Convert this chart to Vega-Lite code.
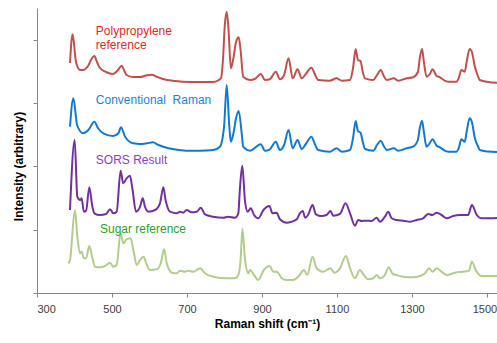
{
  "$schema": "https://vega.github.io/schema/vega-lite/v6.json",
  "width": 460,
  "height": 285,
  "autosize": "none",
  "padding": {"left": 37, "top": 8, "right": 0, "bottom": 50},
  "config": {"view": {"stroke": null}, "font": "Liberation Sans"},
  "datasets": {
    "spectra": [
      {"s":"pp","x":388,"y":230},{"s":"pp","x":395,"y":258.7},{"s":"pp","x":404,"y":231},{"s":"pp","x":415,"y":223},{"s":"pp","x":423,"y":223},{"s":"pp","x":436,"y":227},{"s":"pp","x":447,"y":235},{"s":"pp","x":453,"y":237},{"s":"pp","x":460,"y":231},{"s":"pp","x":468,"y":225},{"s":"pp","x":484,"y":221},{"s":"pp","x":503,"y":219},{"s":"pp","x":516,"y":223},{"s":"pp","x":526,"y":227.3},{"s":"pp","x":532,"y":223},{"s":"pp","x":539,"y":218},{"s":"pp","x":556,"y":216},{"s":"pp","x":575,"y":216},{"s":"pp","x":591,"y":217.5},{"s":"pp","x":606,"y":218.3},{"s":"pp","x":621,"y":216},{"s":"pp","x":636,"y":214},{"s":"pp","x":668,"y":212},{"s":"pp","x":708,"y":211},{"s":"pp","x":748,"y":211},{"s":"pp","x":769,"y":211},{"s":"pp","x":783,"y":212.5},{"s":"pp","x":791,"y":215},{"s":"pp","x":796,"y":233},{"s":"pp","x":801,"y":268},{"s":"pp","x":806,"y":281.3},{"s":"pp","x":811,"y":263},{"s":"pp","x":817,"y":224.7},{"s":"pp","x":823,"y":233},{"s":"pp","x":831,"y":251},{"s":"pp","x":838,"y":255.7},{"s":"pp","x":843,"y":243},{"s":"pp","x":850,"y":216.3},{"s":"pp","x":868,"y":213},{"s":"pp","x":881,"y":214},{"s":"pp","x":897,"y":219},{"s":"pp","x":908,"y":213},{"s":"pp","x":921,"y":213.7},{"s":"pp","x":937,"y":221.3},{"s":"pp","x":948,"y":213.7},{"s":"pp","x":959,"y":218},{"s":"pp","x":971,"y":234.7},{"s":"pp","x":982,"y":214.7},{"s":"pp","x":995,"y":223.7},{"s":"pp","x":1006,"y":214.7},{"s":"pp","x":1017,"y":219},{"s":"pp","x":1032,"y":225.3},{"s":"pp","x":1041,"y":219},{"s":"pp","x":1050,"y":213},{"s":"pp","x":1081,"y":212.3},{"s":"pp","x":1099,"y":214.7},{"s":"pp","x":1113,"y":212.3},{"s":"pp","x":1135,"y":213},{"s":"pp","x":1143,"y":225},{"s":"pp","x":1150,"y":244},{"s":"pp","x":1156,"y":233},{"s":"pp","x":1163,"y":232},{"s":"pp","x":1169,"y":221},{"s":"pp","x":1175,"y":214.7},{"s":"pp","x":1197,"y":213},{"s":"pp","x":1207,"y":218},{"s":"pp","x":1217,"y":223},{"s":"pp","x":1225,"y":217},{"s":"pp","x":1233,"y":213},{"s":"pp","x":1252,"y":214.7},{"s":"pp","x":1263,"y":212.3},{"s":"pp","x":1286,"y":214.7},{"s":"pp","x":1303,"y":215.7},{"s":"pp","x":1316,"y":221},{"s":"pp","x":1321,"y":235},{"s":"pp","x":1327,"y":244},{"s":"pp","x":1332,"y":231},{"s":"pp","x":1339,"y":216.3},{"s":"pp","x":1348,"y":219},{"s":"pp","x":1355,"y":223.7},{"s":"pp","x":1366,"y":217},{"s":"pp","x":1375,"y":215.7},{"s":"pp","x":1385,"y":213},{"s":"pp","x":1397,"y":211.3},{"s":"pp","x":1419,"y":211.3},{"s":"pp","x":1425,"y":215},{"s":"pp","x":1432,"y":223},{"s":"pp","x":1441,"y":221.3},{"s":"pp","x":1446,"y":231},{"s":"pp","x":1454,"y":244},{"s":"pp","x":1460,"y":241},{"s":"pp","x":1468,"y":226.3},{"s":"pp","x":1476,"y":217},{"s":"pp","x":1481,"y":213},{"s":"pp","x":1503,"y":211},{"s":"pp","x":1527,"y":210.3},

      {"s":"conv","x":388,"y":166.3},{"s":"conv","x":397,"y":194.7},{"s":"conv","x":407,"y":168},{"s":"conv","x":423,"y":159.7},{"s":"conv","x":437,"y":163},{"s":"conv","x":453,"y":171.3},{"s":"conv","x":463,"y":164.7},{"s":"conv","x":477,"y":159.7},{"s":"conv","x":503,"y":157},{"s":"conv","x":517,"y":159.7},{"s":"conv","x":524,"y":165.7},{"s":"conv","x":535,"y":156.3},{"s":"conv","x":557,"y":149.7},{"s":"conv","x":575,"y":149},{"s":"conv","x":593,"y":149.7},{"s":"conv","x":609,"y":150.7},{"s":"conv","x":624,"y":148},{"s":"conv","x":637,"y":146.3},{"s":"conv","x":665,"y":143.7},{"s":"conv","x":699,"y":142.3},{"s":"conv","x":735,"y":142.3},{"s":"conv","x":770,"y":143},{"s":"conv","x":788,"y":146.3},{"s":"conv","x":799,"y":166.3},{"s":"conv","x":806,"y":208},{"s":"conv","x":813,"y":166.3},{"s":"conv","x":817,"y":151.3},{"s":"conv","x":824,"y":159.7},{"s":"conv","x":831,"y":175},{"s":"conv","x":838,"y":182},{"s":"conv","x":846,"y":159.7},{"s":"conv","x":850,"y":146.3},{"s":"conv","x":868,"y":142.3},{"s":"conv","x":897,"y":148.7},{"s":"conv","x":908,"y":142.3},{"s":"conv","x":921,"y":143.7},{"s":"conv","x":937,"y":151.3},{"s":"conv","x":948,"y":143},{"s":"conv","x":959,"y":148},{"s":"conv","x":971,"y":163},{"s":"conv","x":982,"y":144.7},{"s":"conv","x":995,"y":153},{"s":"conv","x":1006,"y":144},{"s":"conv","x":1017,"y":149},{"s":"conv","x":1032,"y":156.3},{"s":"conv","x":1041,"y":149},{"s":"conv","x":1050,"y":143},{"s":"conv","x":1081,"y":141.3},{"s":"conv","x":1099,"y":144.7},{"s":"conv","x":1113,"y":141.3},{"s":"conv","x":1135,"y":143},{"s":"conv","x":1143,"y":155},{"s":"conv","x":1150,"y":172},{"s":"conv","x":1156,"y":162},{"s":"conv","x":1163,"y":160.3},{"s":"conv","x":1169,"y":151},{"s":"conv","x":1175,"y":144},{"s":"conv","x":1197,"y":142.3},{"s":"conv","x":1207,"y":148},{"s":"conv","x":1217,"y":152.3},{"s":"conv","x":1225,"y":147},{"s":"conv","x":1233,"y":143},{"s":"conv","x":1252,"y":144.7},{"s":"conv","x":1263,"y":142.3},{"s":"conv","x":1286,"y":144.7},{"s":"conv","x":1303,"y":146.3},{"s":"conv","x":1316,"y":153},{"s":"conv","x":1321,"y":165},{"s":"conv","x":1327,"y":172.3},{"s":"conv","x":1332,"y":161},{"s":"conv","x":1339,"y":146.3},{"s":"conv","x":1348,"y":150},{"s":"conv","x":1355,"y":153.7},{"s":"conv","x":1366,"y":147.3},{"s":"conv","x":1375,"y":145.7},{"s":"conv","x":1385,"y":143},{"s":"conv","x":1397,"y":141.3},{"s":"conv","x":1419,"y":141.3},{"s":"conv","x":1425,"y":145},{"s":"conv","x":1432,"y":153.7},{"s":"conv","x":1441,"y":151.3},{"s":"conv","x":1446,"y":161},{"s":"conv","x":1454,"y":174.7},{"s":"conv","x":1460,"y":171},{"s":"conv","x":1468,"y":154.7},{"s":"conv","x":1476,"y":147},{"s":"conv","x":1481,"y":143},{"s":"conv","x":1503,"y":141.5},{"s":"conv","x":1527,"y":141},

      {"s":"sors","x":388,"y":83},{"s":"sors","x":400.5,"y":153},{"s":"sors","x":407.5,"y":96.3},{"s":"sors","x":415,"y":93},{"s":"sors","x":419,"y":94.7},{"s":"sors","x":425,"y":81.3},{"s":"sors","x":431,"y":82.3},{"s":"sors","x":439.5,"y":105.7},{"s":"sors","x":447,"y":88},{"s":"sors","x":453,"y":79.7},{"s":"sors","x":468,"y":78},{"s":"sors","x":484,"y":79},{"s":"sors","x":495,"y":83.7},{"s":"sors","x":503.5,"y":79.7},{"s":"sors","x":512.5,"y":81.3},{"s":"sors","x":523,"y":122.3},{"s":"sors","x":530,"y":109.7},{"s":"sors","x":539,"y":114.7},{"s":"sors","x":548,"y":117.3},{"s":"sors","x":555,"y":103},{"s":"sors","x":564,"y":81.3},{"s":"sors","x":575,"y":86.3},{"s":"sors","x":582,"y":94.7},{"s":"sors","x":588,"y":86.3},{"s":"sors","x":597,"y":81.3},{"s":"sors","x":615,"y":83},{"s":"sors","x":628,"y":89.7},{"s":"sors","x":637,"y":105.7},{"s":"sors","x":643,"y":93},{"s":"sors","x":655,"y":81.3},{"s":"sors","x":673,"y":79.7},{"s":"sors","x":681,"y":81.3},{"s":"sors","x":690,"y":80.3},{"s":"sors","x":699,"y":83},{"s":"sors","x":712.5,"y":80.7},{"s":"sors","x":726,"y":81.3},{"s":"sors","x":737,"y":85.3},{"s":"sors","x":748,"y":78.7},{"s":"sors","x":770,"y":76.3},{"s":"sors","x":797,"y":75.3},{"s":"sors","x":810,"y":76.3},{"s":"sors","x":828,"y":75.3},{"s":"sors","x":837,"y":79.7},{"s":"sors","x":841,"y":103},{"s":"sors","x":847.5,"y":127.3},{"s":"sors","x":855,"y":91.3},{"s":"sors","x":862,"y":81.3},{"s":"sors","x":870,"y":84.7},{"s":"sors","x":879,"y":78},{"s":"sors","x":890,"y":74.7},{"s":"sors","x":904,"y":83},{"s":"sors","x":920,"y":87},{"s":"sors","x":928,"y":79.7},{"s":"sors","x":939,"y":80.3},{"s":"sors","x":948,"y":73.7},{"s":"sors","x":966,"y":70.3},{"s":"sors","x":979,"y":71.3},{"s":"sors","x":993,"y":73.7},{"s":"sors","x":1001,"y":79.7},{"s":"sors","x":1009,"y":82},{"s":"sors","x":1015,"y":75.3},{"s":"sors","x":1023,"y":78},{"s":"sors","x":1035,"y":88},{"s":"sors","x":1044,"y":78.7},{"s":"sors","x":1059,"y":77},{"s":"sors","x":1072,"y":78},{"s":"sors","x":1083,"y":82},{"s":"sors","x":1090,"y":77.3},{"s":"sors","x":1108,"y":79},{"s":"sors","x":1123,"y":89.7},{"s":"sors","x":1135,"y":79.7},{"s":"sors","x":1148,"y":67.3},{"s":"sors","x":1157,"y":73},{"s":"sors","x":1166,"y":72},{"s":"sors","x":1179,"y":72.3},{"s":"sors","x":1192.5,"y":72},{"s":"sors","x":1206,"y":75.3},{"s":"sors","x":1215,"y":71.3},{"s":"sors","x":1228,"y":76.3},{"s":"sors","x":1237,"y":81.3},{"s":"sors","x":1246,"y":74.7},{"s":"sors","x":1259,"y":73},{"s":"sors","x":1277,"y":72.3},{"s":"sors","x":1295,"y":71.3},{"s":"sors","x":1313,"y":73},{"s":"sors","x":1330,"y":74.7},{"s":"sors","x":1343,"y":79},{"s":"sors","x":1355,"y":78},{"s":"sors","x":1366,"y":80.3},{"s":"sors","x":1379,"y":78},{"s":"sors","x":1393,"y":74.7},{"s":"sors","x":1410,"y":77},{"s":"sors","x":1428,"y":78},{"s":"sors","x":1450,"y":78},{"s":"sors","x":1460,"y":88},{"s":"sors","x":1473,"y":78},{"s":"sors","x":1486,"y":74.7},{"s":"sors","x":1508,"y":74.7},{"s":"sors","x":1527,"y":75},

      {"s":"sugar","x":383.5,"y":29.7},{"s":"sugar","x":388,"y":33},{"s":"sugar","x":401,"y":83},{"s":"sugar","x":408.5,"y":53},{"s":"sugar","x":415,"y":39.7},{"s":"sugar","x":419,"y":41.3},{"s":"sugar","x":425,"y":34.7},{"s":"sugar","x":431,"y":34.7},{"s":"sugar","x":439.5,"y":47},{"s":"sugar","x":447,"y":36.3},{"s":"sugar","x":455,"y":26.3},{"s":"sugar","x":468,"y":25.7},{"s":"sugar","x":481,"y":27},{"s":"sugar","x":495,"y":30.3},{"s":"sugar","x":503.5,"y":26.3},{"s":"sugar","x":512.5,"y":28},{"s":"sugar","x":523,"y":59.7},{"s":"sugar","x":530,"y":49.7},{"s":"sugar","x":539,"y":53.7},{"s":"sugar","x":550,"y":54.7},{"s":"sugar","x":557,"y":43},{"s":"sugar","x":566,"y":28},{"s":"sugar","x":575,"y":33},{"s":"sugar","x":584,"y":36.3},{"s":"sugar","x":593,"y":28},{"s":"sugar","x":601,"y":23},{"s":"sugar","x":620,"y":23.7},{"s":"sugar","x":630,"y":29.7},{"s":"sugar","x":639,"y":43.7},{"s":"sugar","x":646,"y":29.7},{"s":"sugar","x":660,"y":20.3},{"s":"sugar","x":673,"y":19.7},{"s":"sugar","x":681,"y":22.3},{"s":"sugar","x":695,"y":21.3},{"s":"sugar","x":703,"y":22.3},{"s":"sugar","x":717,"y":21.3},{"s":"sugar","x":735,"y":24.7},{"s":"sugar","x":748,"y":19.7},{"s":"sugar","x":770,"y":16.3},{"s":"sugar","x":806,"y":14.7},{"s":"sugar","x":828,"y":14.7},{"s":"sugar","x":837,"y":18},{"s":"sugar","x":843,"y":33},{"s":"sugar","x":848,"y":64},{"s":"sugar","x":855,"y":33},{"s":"sugar","x":864,"y":19.7},{"s":"sugar","x":868,"y":23},{"s":"sugar","x":879,"y":18},{"s":"sugar","x":890,"y":13},{"s":"sugar","x":905,"y":23},{"s":"sugar","x":921,"y":27},{"s":"sugar","x":930,"y":21.3},{"s":"sugar","x":940,"y":21.3},{"s":"sugar","x":953,"y":14.7},{"s":"sugar","x":966,"y":13},{"s":"sugar","x":983,"y":13},{"s":"sugar","x":997,"y":16.3},{"s":"sugar","x":1012,"y":23},{"s":"sugar","x":1021,"y":18},{"s":"sugar","x":1035,"y":36.3},{"s":"sugar","x":1046,"y":24.7},{"s":"sugar","x":1063,"y":21.3},{"s":"sugar","x":1083,"y":24.7},{"s":"sugar","x":1093,"y":20.3},{"s":"sugar","x":1108,"y":24.7},{"s":"sugar","x":1124,"y":37},{"s":"sugar","x":1135,"y":24.7},{"s":"sugar","x":1148,"y":14.7},{"s":"sugar","x":1161,"y":23},{"s":"sugar","x":1172,"y":18},{"s":"sugar","x":1183,"y":13.7},{"s":"sugar","x":1197,"y":14.7},{"s":"sugar","x":1206,"y":18},{"s":"sugar","x":1215,"y":14.7},{"s":"sugar","x":1228,"y":18},{"s":"sugar","x":1238,"y":25.7},{"s":"sugar","x":1249,"y":19},{"s":"sugar","x":1259,"y":18},{"s":"sugar","x":1277,"y":16.3},{"s":"sugar","x":1303.5,"y":15.7},{"s":"sugar","x":1321,"y":17},{"s":"sugar","x":1335,"y":19.7},{"s":"sugar","x":1346,"y":24.7},{"s":"sugar","x":1355,"y":21.3},{"s":"sugar","x":1366,"y":24.7},{"s":"sugar","x":1379,"y":21.3},{"s":"sugar","x":1393,"y":18},{"s":"sugar","x":1415,"y":20.3},{"s":"sugar","x":1436,"y":21.3},{"s":"sugar","x":1452,"y":22.3},{"s":"sugar","x":1460,"y":31.3},{"s":"sugar","x":1471,"y":22.3},{"s":"sugar","x":1486,"y":17},{"s":"sugar","x":1527,"y":17}
    ],
    "labels": [
      {"lab":"pp","t":"Polypropylene","x":457,"y":262},
      {"lab":"pp","t":"reference","x":457,"y":248},
      {"lab":"conv","t":"Conventional\u00a0 Raman","x":457,"y":193},
      {"lab":"sors","t":"SORS Result","x":457,"y":133},
      {"lab":"sugar","t":"Sugar reference","x":468,"y":64}
    ]
  },
  "layer": [
    {
      "data": {"name": "spectra"},
      "mark": {"type": "line", "strokeWidth": 2, "interpolate": "monotone"},
      "encoding": {
        "x": {"field": "x", "type": "quantitative",
          "scale": {"domain": [300, 1527], "nice": false, "zero": false},
          "axis": {"values": [300, 500, 700, 900, 1100, 1300, 1500], "format": "d", "grid": false,
            "domainColor": "#868686", "tickColor": "#868686", "tickSize": 4,
            "labelColor": "#404040", "labelFontSize": 11, "labelPadding": 6,
            "labelFont": "Liberation Sans", "labelOverlap": false, "labelBound": false,
            "labelOffset": {"condition": {"test": "datum.value == 1500", "value": -2.5}, "value": 0},
            "title": "Raman shift (cm⁻¹)", "titleFontSize": 12, "titleFontWeight": "bold",
            "titleColor": "#000000", "titlePadding": 4}},
        "y": {"field": "y", "type": "quantitative",
          "scale": {"domain": [0, 285], "nice": false, "zero": false},
          "axis": {"values": [0, 31.67, 63.33, 95, 126.67, 158.33, 190, 221.67, 253.33, 285],
            "labels": false, "grid": false, "domainColor": "#868686", "tickColor": "#868686",
            "tickSize": 4, "title": "Intensity (arbitrary)", "titleFontSize": 12,
            "titleFontWeight": "bold", "titleColor": "#000000", "titleX": -19, "titleY": 158,
            "titleAngle": -90, "titleAlign": "center", "titleBaseline": "middle"}},
        "color": {"field": "s", "type": "nominal", "legend": null,
          "scale": {"domain": ["pp", "conv", "sors", "sugar"],
            "range": ["#c0504d", "#1279d0", "#7030a0", "#b3cc8e"]}},
        "detail": {"field": "s"}
      }
    },
    {
      "data": {"name": "labels"},
      "mark": {"type": "text", "align": "left", "baseline": "middle", "fontSize": 12, "font": "Liberation Sans"},
      "encoding": {
        "x": {"field": "x", "type": "quantitative"},
        "y": {"field": "y", "type": "quantitative"},
        "text": {"field": "t"},
        "color": {"field": "lab", "type": "nominal", "legend": null,
          "scale": {"domain": ["pp", "conv", "sors", "sugar"],
            "range": ["#e3262a", "#1f80d6", "#8a40bf", "#2ca02c"]}}
      }
    }
  ],
  "resolve": {"scale": {"color": "independent"}}
}
